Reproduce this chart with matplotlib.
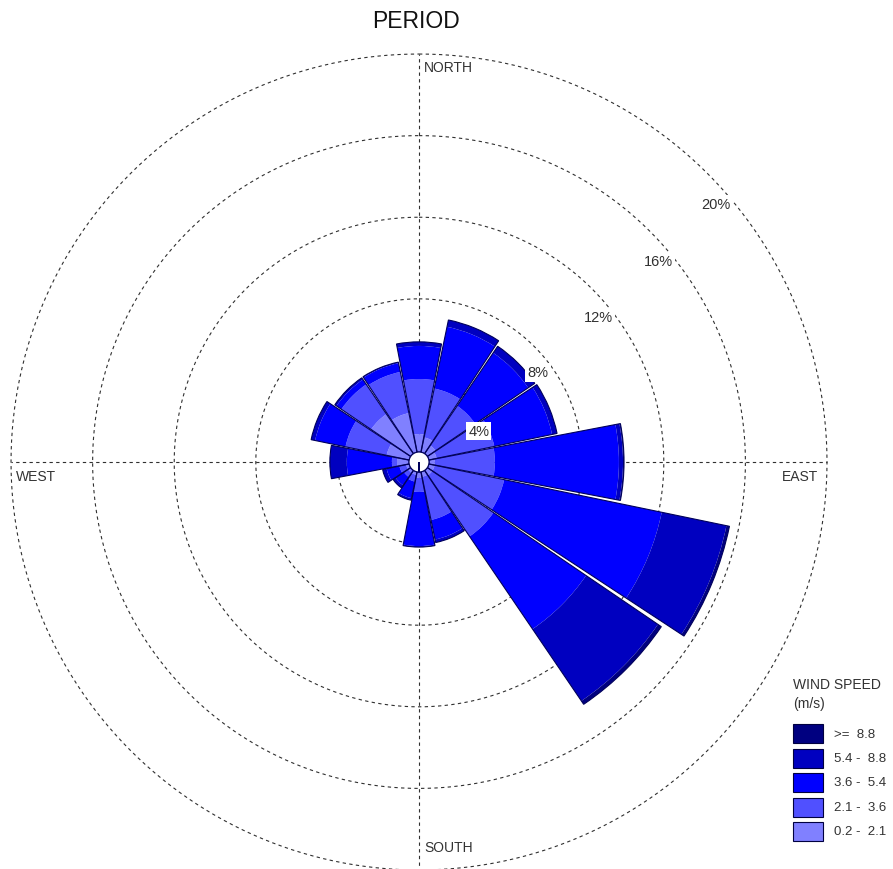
import numpy as np
import matplotlib
matplotlib.use("Agg")
import matplotlib.pyplot as plt
from matplotlib.patches import Rectangle

plt.rcParams['font.family'] = ['Liberation Sans', 'DejaVu Sans']

# 16 sectors, clockwise from north
directions = ['N', 'NNE', 'NE', 'ENE', 'E', 'ESE', 'SE', 'SSE',
              'S', 'SSW', 'SW', 'WSW', 'W', 'WNW', 'NW', 'NNW']

# frequency (%) per speed class, one value per direction
spd_02_21 = [0.88, 0.74, 0.49, 0.39, 0.29, 0.29, 0.29, 0.25,
             0.29, 0.15, 0.15, 0.15, 0.59, 1.13, 2.35, 1.96]
spd_21_36 = [2.70, 2.45, 2.35, 2.89, 2.94, 3.48, 3.63, 2.16,
             0.69, 0.34, 0.25, 0.34, 0.25, 2.06, 1.76, 2.06]
spd_36_54 = [1.62, 3.09, 3.14, 2.89, 6.08, 7.89, 5.49, 0.98,
             2.65, 0.83, 0.49, 0.64, 2.21, 1.52, 0.29, 0.44]
spd_54_88 = [0.20, 0.34, 0.39, 0.25, 0.20, 3.24, 4.26, 0.15,
             0.05, 0.10, 0.15, 0.20, 0.83, 0.20, 0.10, 0.05]
spd_88 = [0.00, 0.00, 0.00, 0.00, 0.05, 0.15, 0.20, 0.00,
          0.00, 0.00, 0.00, 0.00, 0.00, 0.00, 0.00, 0.00]

speed_classes = ['0.2 -  2.1', '2.1 -  3.6', '3.6 -  5.4', '5.4 -  8.8', '>=  8.8']
class_colors = ['#8080ff', '#5050ff', '#0000ff', '#0000c0', '#000080']
rings = [4, 8, 12, 16, 20]
calm_r = 0.49  # radius of the calm circle in % units

fig = plt.figure(figsize=(8.93, 8.70), dpi=100)
ax = fig.add_axes([0.01232, -0.00115, 0.9138, 0.9379], projection='polar')
ax.set_theta_zero_location('N')
ax.set_theta_direction(-1)
ax.set_ylim(0, 20)
ax.set_xticks([])
ax.set_yticks([])
ax.grid(False)
ax.spines['polar'].set_visible(False)
ax.patch.set_alpha(0)

# dashed rings and axes
t = np.linspace(0, 2 * np.pi, 721)
for r in rings:
    ax.plot(t, np.full_like(t, r), color='#303030', lw=0.8,
            ls=(0, (3, 3)), zorder=1, clip_on=False)
for a in [0, 90, 180, 270]:
    ax.plot([np.radians(a)] * 2, [0, 20], color='#303030', lw=0.8,
            ls=(0, (3, 3)), zorder=1, clip_on=False)

theta = np.radians(np.arange(16) * 22.5)
width = np.radians(21.6)
series = [spd_02_21, spd_21_36, spd_36_54, spd_54_88, spd_88]
bottom = np.full(16, calm_r)
for vals, col in zip(series, class_colors):
    vals = np.array(vals)
    ax.bar(theta, vals, width=width, bottom=bottom, color=col,
           edgecolor='none', linewidth=0, zorder=2)
    bottom = bottom + vals
# outline of each sector
ax.bar(theta, bottom - calm_r, width=width, bottom=calm_r, fill=False,
       edgecolor='#00005a', linewidth=0.8, zorder=3)

# calm circle
ax.bar(0, calm_r, width=2 * np.pi, bottom=0, color='white',
       edgecolor='#00005a', linewidth=0.8, zorder=4)

# ring labels
label_angles = [62.5, 53, 51, 50, 49]
for r, a in zip(rings, label_angles):
    ax.text(np.radians(a), r - 0.7, f'{r}%', ha='center', va='center',
            fontsize=10.5, color='#303030', zorder=5,
            bbox=dict(boxstyle='square,pad=0.15', fc='white', ec='none'))

W, H = 893, 870
def fx(px):
    return px / W
def fy(py):
    return 1 - py / H

fig.text(fx(416), fy(21), 'PERIOD', fontsize=16.5, ha='center', va='center',
         color='#111111')
fig.text(fx(424), fy(68), 'NORTH', fontsize=10, ha='left', va='center', color='#333333')
fig.text(fx(424), fy(848), 'SOUTH', fontsize=10, ha='left', va='center', color='#333333')
fig.text(fx(16), fy(477), 'WEST', fontsize=10, ha='left', va='center', color='#333333')
fig.text(fx(818), fy(477), 'EAST', fontsize=10, ha='right', va='center', color='#333333')

# legend
fig.text(fx(793), fy(685), 'WIND SPEED', fontsize=10, ha='left', va='center', color='#333333')
fig.text(fx(793), fy(704), '(m/s)', fontsize=10, ha='left', va='center', color='#333333')
for i, (lab, col) in enumerate(zip(speed_classes[::-1], class_colors[::-1])):
    top = 725 + i * 24.5
    fig.add_artist(Rectangle((fx(793), fy(top + 19)), 30 / W, 19 / H,
                             transform=fig.transFigure, facecolor=col,
                             edgecolor='#000040', linewidth=0.8))
    fig.text(fx(834), fy(top + 9.5), lab, fontsize=9.5, ha='left', va='center',
             color='#333333')

fig.savefig('out.png', dpi=100)
